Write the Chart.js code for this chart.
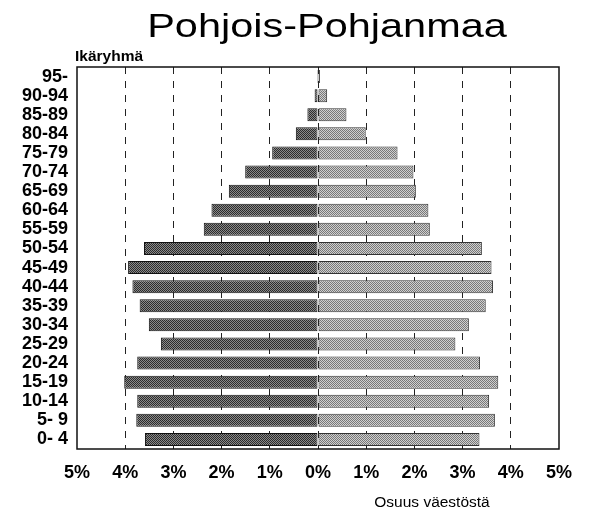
<!DOCTYPE html>
<html>
<head>
<meta charset="utf-8">
<script src="https://cdn.jsdelivr.net/npm/chart.js@4/dist/chart.umd.min.js"></script>
<style>
  html, body { margin: 0; padding: 0; background: #fff; }
  #wrap { position: relative; width: 589px; height: 516px; }
</style>
</head>
<body>
<div id="wrap"><canvas id="pyr" width="589" height="516"></canvas></div>
<script>
// ikäryhmät ylhäältä alas
const IKARYHMAT = ["95-","90-94","85-89","80-84","75-79","70-74","65-69","60-64","55-59","50-54",
                   "45-49","40-44","35-39","30-34","25-29","20-24","15-19","10-14","5- 9","0- 4"];
// osuus väestöstä (%), samassa järjestyksessä
const MIEHET = [0.02,0.07,0.22,0.46,0.95,1.51,1.85,2.21,2.37,3.61,
                3.94,3.85,3.70,3.51,3.26,3.75,4.02,3.75,3.77,3.59];
const NAISET = [0.04,0.19,0.59,0.99,1.65,1.98,2.03,2.29,2.32,3.40,
                3.60,3.63,3.48,3.13,2.85,3.36,3.74,3.55,3.67,3.35];
const X_TICKS = [-5,-4,-3,-2,-1,0,1,2,3,4,5];

const FONT = "'Liberation Sans', Arial, sans-serif";

// rasterikuviot kuten alkuperäisessä tulosteessa
function pattern(draw) {
  const c = document.createElement("canvas"); c.width = 4; c.height = 4;
  draw(c.getContext("2d"));
  return c.getContext("2d").createPattern(c, "repeat");
}
const tumma = pattern(g => {
  g.fillStyle = "#8a8a8a"; g.fillRect(0,0,4,4);
  g.fillStyle = "#2c2c2c";
  [[0,0],[2,0],[1,1],[3,1],[0,2],[2,2],[1,3],[3,3]].forEach(([x,y]) => g.fillRect(x,y,1,1));
});
const vaalea = pattern(g => {
  g.fillStyle = "#d0d0d0"; g.fillRect(0,0,4,4);
  g.fillStyle = "#787878";
  [[0,0],[1,1],[2,2],[3,3],[2,0],[3,1],[0,2],[1,3]].forEach(([x,y]) => g.fillRect(x,y,1,1));
});

const tekstit = {
  id: "tekstit",
  afterDraw(chart) {
    const { ctx, chartArea: a } = chart;
    ctx.save();
    ctx.strokeStyle = "#111"; ctx.lineWidth = 1.5;
    ctx.strokeRect(a.left, a.top, a.right - a.left, a.bottom - a.top);
    ctx.fillStyle = "#000";
    ctx.textBaseline = "alphabetic";
    // otsikko on alkuperäisessä leveämpää fonttia
    ctx.save();
    ctx.translate(327, 37); ctx.scale(1.22, 1);
    ctx.font = "34px " + FONT; ctx.textAlign = "center";
    ctx.fillText("Pohjois-Pohjanmaa", 0, 0);
    ctx.restore();
    ctx.font = "bold 15.5px " + FONT; ctx.textAlign = "left";
    ctx.fillText("Ikäryhmä", 75, 61);
    ctx.font = "15.5px " + FONT; ctx.textAlign = "center";
    ctx.fillText("Osuus väestöstä", 432, 507);
    ctx.restore();
  }
};

new Chart(document.getElementById("pyr"), {
  type: "bar",
  data: {
    labels: IKARYHMAT,
    datasets: [
      { label: "Miehet", data: MIEHET.map(v => -v), backgroundColor: tumma,
        borderColor: "#111", borderWidth: 1, borderSkipped: false },
      { label: "Naiset", data: NAISET, backgroundColor: vaalea,
        borderColor: "#333", borderWidth: 1, borderSkipped: false }
    ]
  },
  options: {
    indexAxis: "y",
    responsive: false,
    animation: false,
    layout: { padding: { top: 67, right: 30, left: 0, bottom: 0 } },
    datasets: { bar: { barPercentage: 0.68, categoryPercentage: 1 } },
    plugins: { legend: { display: false }, tooltip: { enabled: false } },
    scales: {
      x: {
        stacked: true, min: -5, max: 5,
        afterBuildTicks: s => { s.ticks = X_TICKS.map(v => ({ value: v })); },
        afterFit: s => { s.height = 516 - 449; },
        ticks: { padding: 13, color: "#000", autoSkip: false, maxRotation: 0,
                 font: { family: FONT, size: 18, weight: "bold" },
                 callback: v => Math.abs(v) + "%" },
        grid: { drawTicks: false, lineWidth: 1,
                color: c => (Math.abs(c.tick && c.tick.value) === 5 ? "rgba(0,0,0,0)" : "#222") },
        border: { display: false, dash: [7, 7] }
      },
      y: {
        stacked: true,
        afterFit: s => { s.width = 77; },
        ticks: { padding: 9, color: "#000", autoSkip: false,
                 font: { family: FONT, size: 18, weight: "bold" } },
        grid: { display: false, drawTicks: false },
        border: { display: false }
      }
    }
  },
  plugins: [tekstit]
});
</script>
</body>
</html>
